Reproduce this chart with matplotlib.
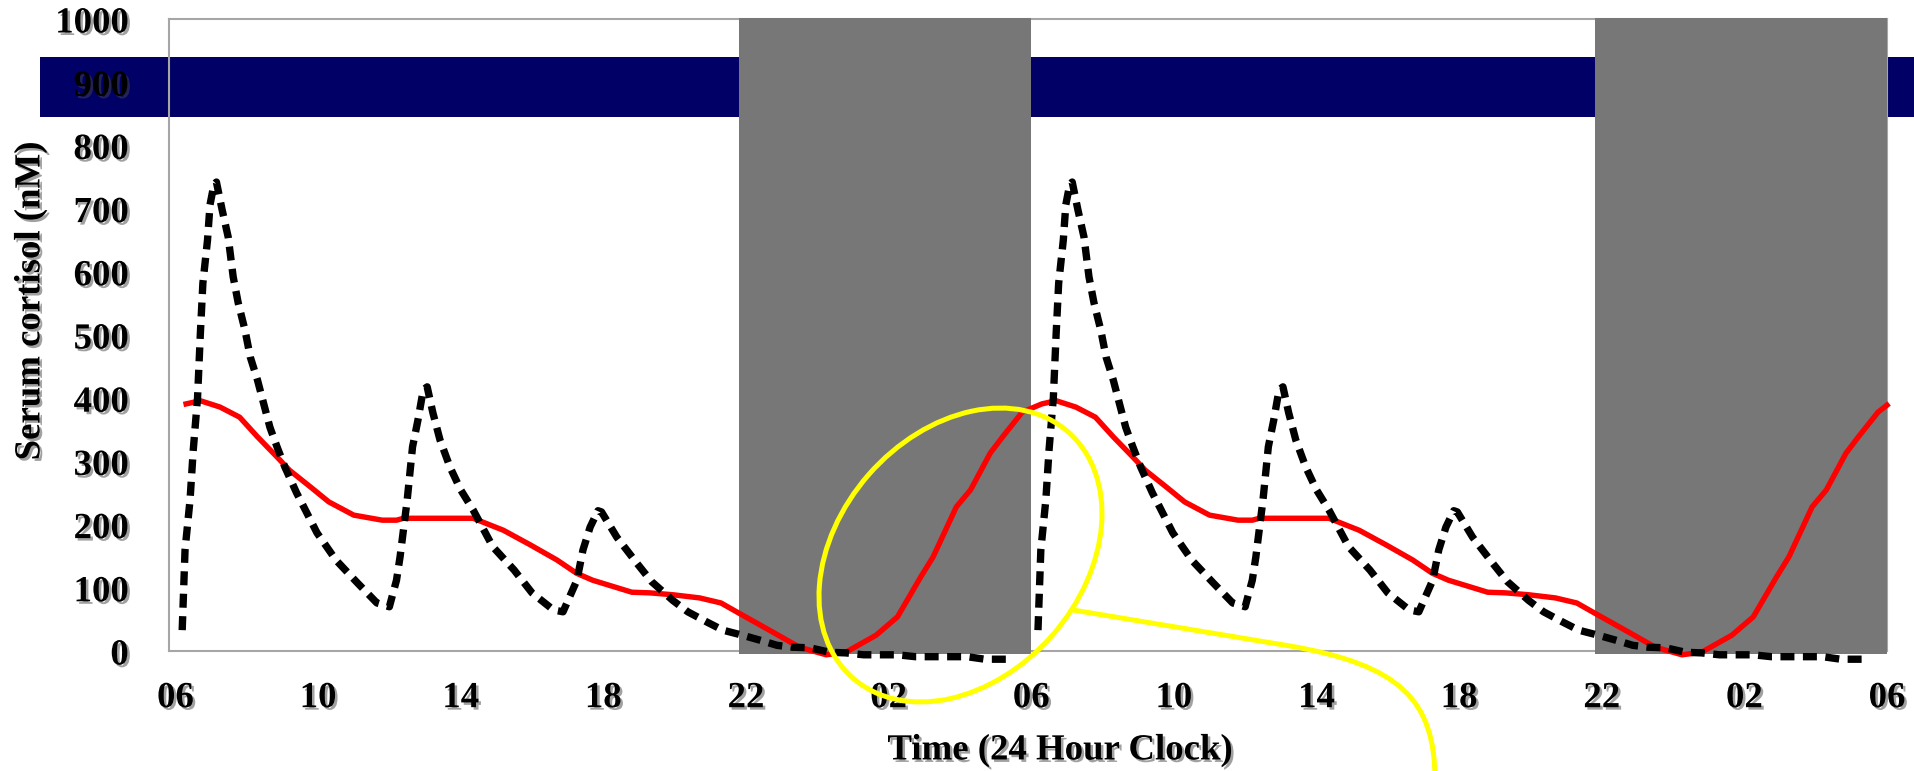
import numpy as np
import matplotlib
matplotlib.use("Agg")
import matplotlib.pyplot as plt
import matplotlib.patheffects as pe
import matplotlib.transforms as mtransforms
from matplotlib.patches import Rectangle, Ellipse, PathPatch
from matplotlib.path import Path

plt.rcParams['font.family'] = ['Liberation Serif', 'DejaVu Serif']
plt.rcParams['font.weight'] = 'bold'

# one 24 h cycle, hours counted from 06 (30 = 06 next morning)
red_hours = [6.3, 6.7, 7.25, 7.8, 8.3, 8.85, 9.2, 9.8, 10.3, 11.0, 11.8, 12.2, 12.4,
             13.7, 14.35, 15.2, 15.95, 16.7, 17.25, 17.7, 18.8, 19.3, 19.95, 20.7,
             21.3, 21.8, 22.75, 23.5, 24.25, 24.8, 25.65, 26.25, 26.9, 27.25, 27.9,
             28.3, 28.85, 29.2, 29.75]
red_vals = [391, 396, 386, 370, 339, 307, 286, 259, 236, 215, 207, 207, 210,
            210, 210, 191, 168, 144, 123, 112, 93, 92, 89, 84,
            76, 60, 30, 6, -6, -2, 25, 54, 117, 149, 228,
            255, 313, 339, 378]
red_end = (54.0, 389)

dash_hours = [6.19, 6.27, 6.41, 6.5, 6.62, 6.7, 6.77, 6.9, 6.97, 7.08, 7.15, 7.31, 7.48,
              7.62, 7.76, 7.95, 8.1, 8.3, 8.5, 8.65, 8.85, 9.07, 9.4, 9.6, 9.97, 10.5,
              11.1, 11.65, 12.0, 12.2, 12.3, 12.5, 12.65, 12.8, 12.95, 13.06, 13.22,
              13.42, 13.7, 14.0, 14.35, 14.55, 14.9, 15.5, 16.0, 16.6, 16.87, 17.26,
              17.43, 17.63, 17.85, 17.95, 18.38, 18.94, 19.35, 19.95, 20.37, 20.9,
              21.35, 21.9, 22.4, 22.87, 23.3, 23.8, 24.35, 24.8, 25.3, 25.75, 26.25,
              26.75, 27.25, 27.7, 28.2, 28.7, 29.35]
dash_vals = [33, 160, 239, 318, 400, 503, 582, 650, 706, 738, 742, 698, 655,
             592, 551, 508, 465, 429, 386, 354, 323, 291, 250, 228, 187, 144,
             108, 76, 70, 112, 149, 239, 323, 365, 413, 418, 377,
             334, 291, 255, 223, 202, 165, 128, 92, 65, 62, 112,
             160, 196, 222, 220, 180, 139, 110, 80, 62, 46,
             33, 25, 17, 9, 6, 5, -2, -3, -6, -6, -6,
             -9, -9, -9, -9, -13, -13]

night_starts = [21.8, 45.8]
night_len = 8.2
band_lo, band_hi = 845, 940

xtick_pos = list(range(6, 55, 4))
xtick_lab = ['06', '10', '14', '18', '22', '02', '06', '10', '14', '18', '22', '02', '06']
yticks = list(range(0, 1001, 100))

shadow = [pe.withSimplePatchShadow(offset=(1.8, -1.8), shadow_rgbFace='#444444', alpha=0.5)]

fig = plt.figure(figsize=(19.15, 7.71), dpi=100)
ax = fig.add_axes([169 / 1915, 1 - 651 / 771, (1887 - 169) / 1915, (651 - 19) / 771])
ax.set_xlim(5.82, 54)
ax.set_ylim(0, 1000)

# blue band, runs out past the plot area
bt = mtransforms.blended_transform_factory(fig.transFigure, ax.transData)
ax.add_patch(Rectangle((40 / 1915, band_lo), 1.0, band_hi - band_lo, transform=bt,
                       facecolor='#000066', edgecolor='none', zorder=0.5, clip_on=False))

for s in night_starts:
    ax.add_patch(Rectangle((s, -5), night_len, 1007, facecolor='#777777',
                           edgecolor='none', zorder=1, clip_on=False))

# red: same cycle twice, joined
rh = np.array(red_hours)
rx = np.concatenate([rh, rh + 24, [red_end[0]]])
ry = np.concatenate([red_vals, red_vals, [red_end[1]]])
ax.plot(rx, ry, color='#FF0000', lw=3.9, zorder=3, clip_on=False, solid_joinstyle='round')

# dashed: two separate cycles
dh = np.array(dash_hours)
for off in (0, 24):
    ax.plot(dh + off, dash_vals, color='black', lw=5.3, zorder=4, clip_on=False,
            linestyle=(0, (1.9, 1.15)), dash_capstyle='butt')

for sp in ax.spines.values():
    sp.set_color('#A6A6A6')
    sp.set_linewidth(1.5)
    sp.set_zorder(0.9)

ax.set_xticks(xtick_pos)
ax.set_xticklabels(xtick_lab)
ax.set_yticks(yticks)
ax.tick_params(axis='both', length=0, labelsize=26.5)
ax.tick_params(axis='y', pad=29)
ax.tick_params(axis='x', pad=21)
for lab in ax.get_xticklabels() + ax.get_yticklabels():
    lab.set_fontweight('bold')
    lab.set_path_effects(shadow)

fig.text(1060 / 1915, 1 - 750 / 771, 'Time (24 Hour Clock)', ha='center', va='center',
         fontsize=26.5, fontweight='bold', path_effects=shadow)
fig.text(30 / 1915, 1 - 301 / 771, 'Serum cortisol (nM)', ha='center', va='center',
         rotation=90, fontsize=26.5, fontweight='bold', path_effects=shadow)

# yellow ellipse + callout line (placed in inches)
it = fig.dpi_scale_trans
H = 7.71
fig.patches.append(Ellipse((9.605, H - 5.55), 3.27, 2.44, angle=48.8, transform=it,
                           facecolor='none', edgecolor='#FFFF00', lw=3.6, zorder=6))
verts = [(10.73, H - 6.10), (12.90, H - 6.46), (14.00, H - 6.65), (14.35, H - 7.00),
         (14.35, H - 7.80)]
codes = [Path.MOVETO, Path.LINETO, Path.CURVE4, Path.CURVE4, Path.CURVE4]
fig.patches.append(PathPatch(Path(verts, codes), transform=it, facecolor='none',
                             edgecolor='#FFFF00', lw=3.6, zorder=6))

fig.savefig('out.png', dpi=100)
